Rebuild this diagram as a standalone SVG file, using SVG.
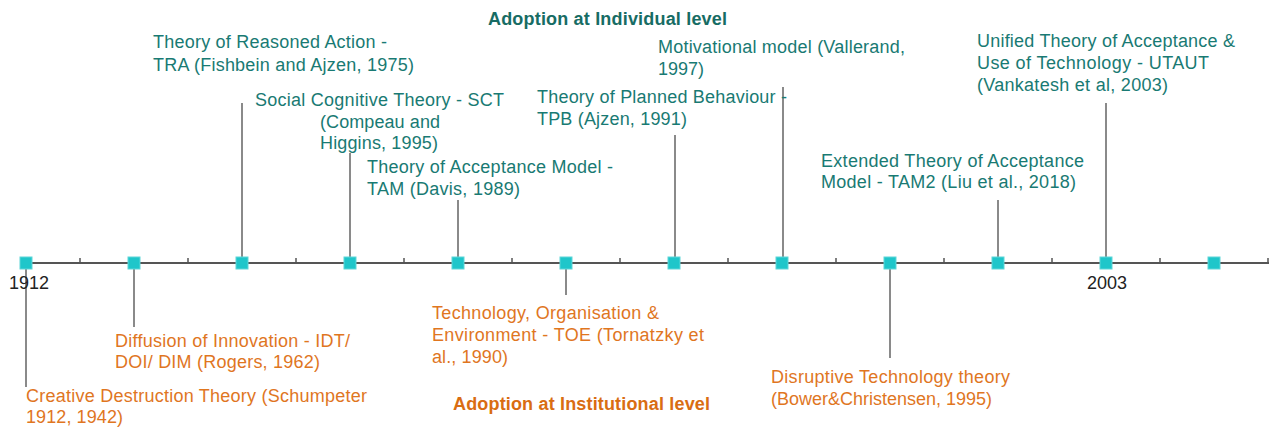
<svg xmlns="http://www.w3.org/2000/svg" width="1271" height="431" viewBox="0 0 1271 431">
<style>
text{font-family:"Liberation Sans",Arial,sans-serif;font-size:18px}
.t{fill:#197a73}
.o{fill:#e0761f}
.ht{fill:#176c64;font-weight:bold}
.ho{fill:#d96d12;font-weight:bold}
.yr{fill:#222}
.stem{stroke:#8a8a8a;stroke-width:2;fill:none}
.axis{stroke:#555;stroke-width:2;fill:none}
.tick{stroke:#555;stroke-width:1.5}
.sq{fill:#1fc6ca;stroke:#5fd6d8;stroke-width:1}
</style>
<defs>
<rect id="m" x="-6" y="-6" width="12" height="12" class="sq"/>
</defs>
<g id="connectors">
<line class="stem" x1="242" y1="103" x2="242" y2="263"/>
<line class="stem" x1="350" y1="153" x2="350" y2="263"/>
<line class="stem" x1="458" y1="200" x2="458" y2="263"/>
<line class="stem" x1="675" y1="135" x2="675" y2="263"/>
<line class="stem" x1="783" y1="87" x2="783" y2="263"/>
<line class="stem" x1="998" y1="200" x2="998" y2="263"/>
<line class="stem" x1="1106" y1="103" x2="1106" y2="263"/>
<line class="stem" x1="26" y1="263" x2="26" y2="387"/>
<line class="stem" x1="134" y1="263" x2="134" y2="327"/>
<line class="stem" x1="566" y1="263" x2="566" y2="295"/>
<line class="stem" x1="890" y1="263" x2="890" y2="358"/>
</g>
<g id="axis">
<line class="axis" x1="20" y1="263" x2="1269" y2="263"/>
<g class="tick">
<line x1="80" y1="258" x2="80" y2="263"/>
<line x1="188" y1="258" x2="188" y2="263"/>
<line x1="296" y1="258" x2="296" y2="263"/>
<line x1="404" y1="258" x2="404" y2="263"/>
<line x1="512" y1="258" x2="512" y2="263"/>
<line x1="620" y1="258" x2="620" y2="263"/>
<line x1="728" y1="258" x2="728" y2="263"/>
<line x1="836" y1="258" x2="836" y2="263"/>
<line x1="944" y1="258" x2="944" y2="263"/>
<line x1="1052" y1="258" x2="1052" y2="263"/>
<line x1="1160" y1="258" x2="1160" y2="263"/>
<line x1="1268" y1="258" x2="1268" y2="263"/>
</g>
<use href="#m" x="26" y="263"/>
<use href="#m" x="134" y="263"/>
<use href="#m" x="242" y="263"/>
<use href="#m" x="350" y="263"/>
<use href="#m" x="458" y="263"/>
<use href="#m" x="566" y="263"/>
<use href="#m" x="674" y="263"/>
<use href="#m" x="782" y="263"/>
<use href="#m" x="890" y="263"/>
<use href="#m" x="998" y="263"/>
<use href="#m" x="1106" y="263"/>
<use href="#m" x="1214" y="263"/>
<text class="yr" x="9" y="289">1912</text>
<text class="yr" x="1087" y="289">2003</text>
</g>
<g id="heading-individual"><text class="ht" x="488" y="25" textLength="239">Adoption at Individual level</text></g>
<g id="heading-institutional"><text class="ho" x="453" y="410" textLength="257">Adoption at Institutional level</text></g>
<g id="tra"><text class="t" x="153" y="48" textLength="234">Theory of Reasoned Action -</text><text class="t" x="153" y="71" textLength="261">TRA (Fishbein and Ajzen, 1975)</text></g>
<g id="sct"><text class="t" x="255" y="106" textLength="249">Social Cognitive Theory - SCT</text><text class="t" x="320" y="128" textLength="120">(Compeau and</text><text class="t" x="320" y="149" textLength="118">Higgins, 1995)</text></g>
<g id="tam"><text class="t" x="367" y="173" textLength="246">Theory of Acceptance Model -</text><text class="t" x="367" y="195" textLength="153">TAM (Davis, 1989)</text></g>
<g id="tpb"><text class="t" x="537" y="103" textLength="250">Theory of Planned Behaviour -</text><text class="t" x="537" y="125" textLength="150">TPB (Ajzen, 1991)</text></g>
<g id="motivational"><text class="t" x="658" y="53" textLength="247">Motivational model (Vallerand,</text><text class="t" x="658" y="75">1997)</text></g>
<g id="tam2"><text class="t" x="821" y="167" textLength="263">Extended Theory of Acceptance</text><text class="t" x="821" y="188" textLength="255">Model - TAM2 (Liu et al., 2018)</text></g>
<g id="utaut"><text class="t" x="977" y="47" textLength="258">Unified Theory of Acceptance &amp;</text><text class="t" x="977" y="69" textLength="232">Use of Technology - UTAUT</text><text class="t" x="977" y="91" textLength="191">(Vankatesh et al, 2003)</text></g>
<g id="creative"><text class="o" x="26" y="402" textLength="341">Creative Destruction Theory (Schumpeter</text><text class="o" x="26" y="423" textLength="97">1912, 1942)</text></g>
<g id="diffusion"><text class="o" x="115" y="347" textLength="235">Diffusion of Innovation - IDT/</text><text class="o" x="115" y="368" textLength="205">DOI/ DIM (Rogers, 1962)</text></g>
<g id="toe"><text class="o" x="432" y="319" textLength="227">Technology, Organisation &amp;</text><text class="o" x="432" y="341" textLength="272">Environment - TOE (Tornatzky et</text><text class="o" x="432" y="363" textLength="76">al., 1990)</text></g>
<g id="disruptive"><text class="o" x="771" y="383" textLength="239">Disruptive Technology theory</text><text class="o" x="771" y="405" textLength="221">(Bower&amp;Christensen, 1995)</text></g>
</svg>
